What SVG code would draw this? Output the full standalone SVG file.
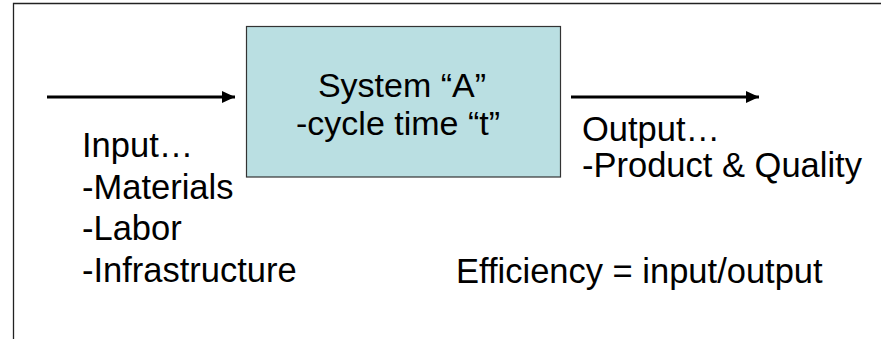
<svg xmlns="http://www.w3.org/2000/svg" width="881" height="339" viewBox="0 0 881 339">
  <defs>
    <marker id="ah" markerUnits="userSpaceOnUse" markerWidth="14" markerHeight="14" refX="13" refY="6" orient="auto">
      <path d="M0,0 L13,6 L0,12 Z" fill="#000"/>
    </marker>
    <style>
      text { font-family: "Liberation Sans", Arial, sans-serif; font-size: 34.5px; fill: #000; }
      .box-text { font-size: 34px; }
      .conn { stroke: #000; stroke-width: 3; fill: none; }
    </style>
  </defs>
  <rect x="0" y="0" width="881" height="339" fill="#fff"/>
  <path d="M13.5,339 V3.5 H881" fill="none" stroke="#222" stroke-width="1.3"/>
  <g id="system-a">
    <rect x="246.5" y="26.5" width="314" height="150.5" fill="#BADFE2" stroke="#333" stroke-width="1.2"/>
    <text class="box-text" x="402" y="97" text-anchor="middle">System “A”</text>
    <text class="box-text" x="398" y="135" text-anchor="middle">-cycle time “t”</text>
  </g>
  <g id="input">
    <text x="82" y="157">Input…</text>
    <text x="82" y="198.5">-Materials</text>
    <text x="82" y="240">-Labor</text>
    <text x="82" y="281.5">-Infrastructure</text>
  </g>
  <g id="output">
    <text x="582" y="141">Output…</text>
    <text x="582" y="177">-Product &amp; Quality</text>
  </g>
  <g id="efficiency">
    <text x="456" y="283">Efficiency = input/output</text>
  </g>
  <g id="connectors">
    <line class="conn" x1="47" y1="97" x2="235" y2="97" marker-end="url(#ah)"/>
    <line class="conn" x1="571" y1="97" x2="759" y2="97" marker-end="url(#ah)"/>
  </g>
</svg>
